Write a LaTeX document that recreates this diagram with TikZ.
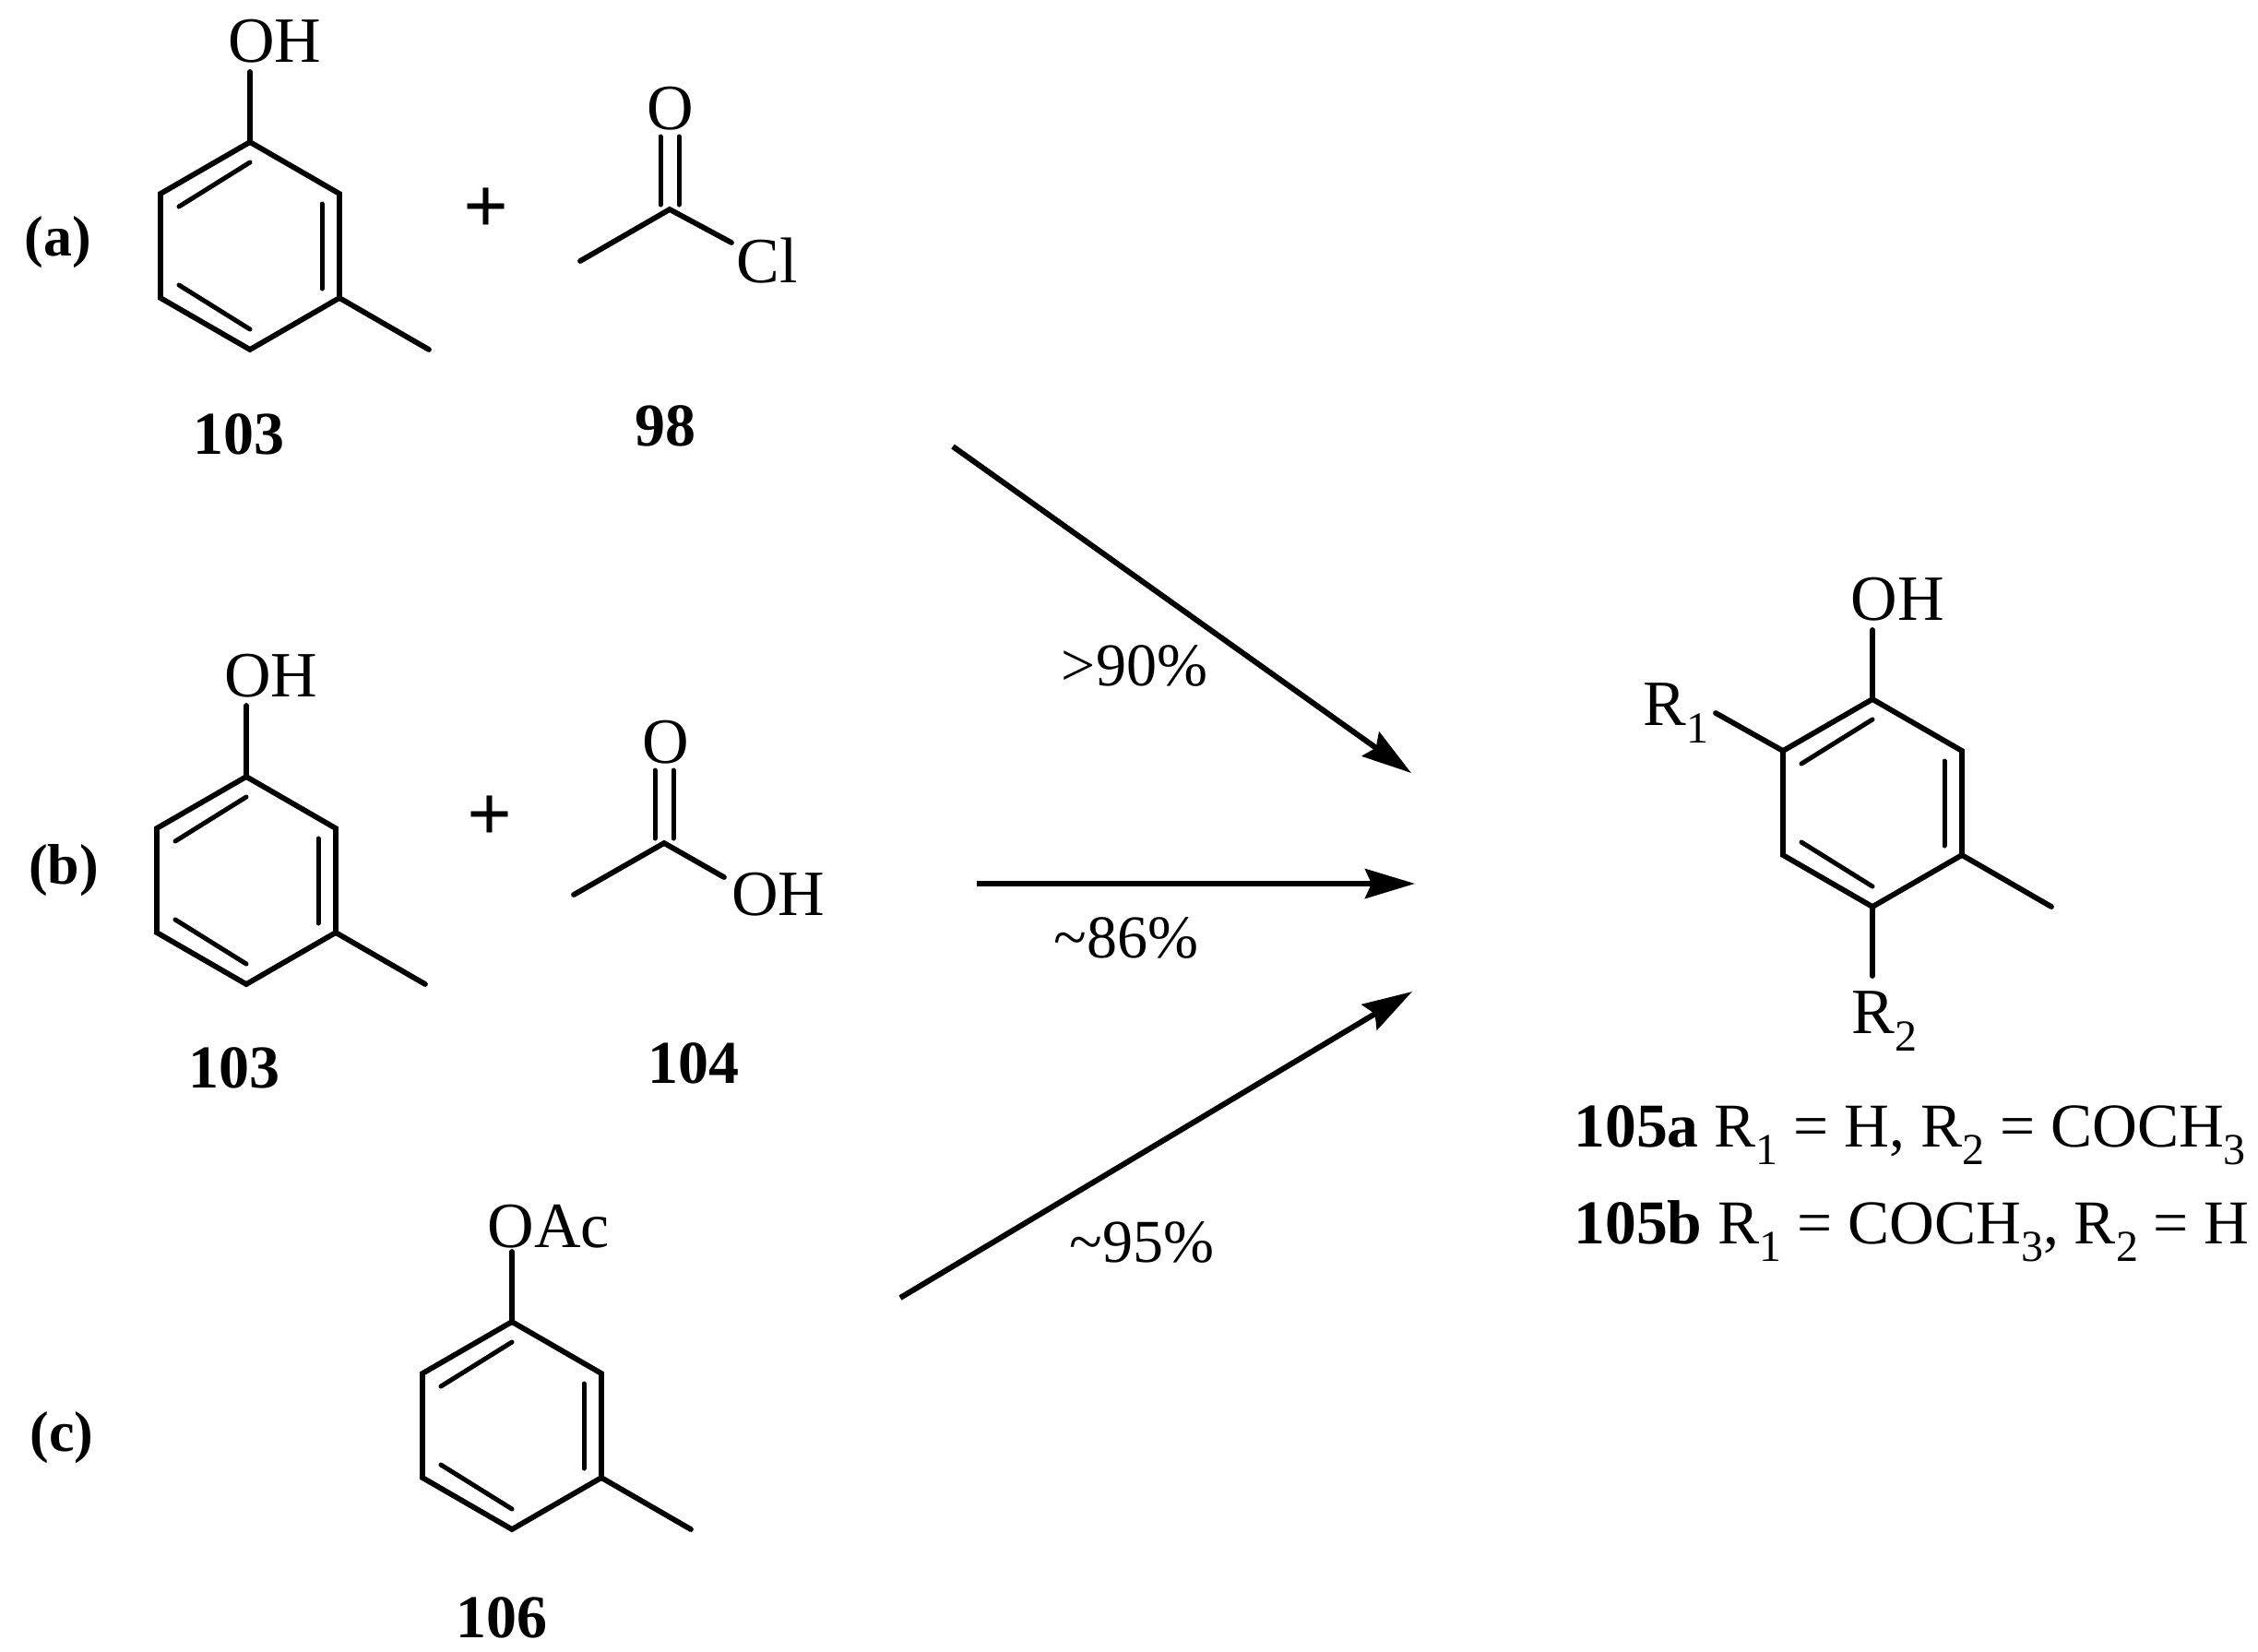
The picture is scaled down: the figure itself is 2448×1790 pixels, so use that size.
\documentclass[tikz,border=0pt]{standalone}
\usepackage{fontspec}
\setmainfont{Liberation Serif}
\usetikzlibrary{arrows.meta}
\newcommand{\lowidx}[1]{\raisebox{-9.5pt}{\fontsize{24}{24}\selectfont #1}}
\tikzset{
  bond/.style={line width=2.9pt,line cap=round,line join=miter},
  inner bond/.style={line width=2.5pt,line cap=round},
  rxn/.style={line width=3pt,-{Stealth[length=27pt,width=16pt,inset=3.5pt]}},
  atom/.style={inner sep=0pt,font=\fontsize{35}{40}\selectfont},
  cpd/.style={inner sep=0pt,font=\fontsize{33}{40}\selectfont\bfseries},
  plusmark/.style={inner sep=0pt,font=\fontsize{43}{43}\selectfont\bfseries},
  pct/.style={inner sep=0pt,font=\fontsize{33}{40}\selectfont},
  tag/.style={inner sep=0pt,font=\fontsize{31}{40}\selectfont\bfseries},
  legend/.style={inner sep=0pt,anchor=base west,font=\fontsize{33.8}{40}\selectfont}
}
% #1 prefix, #2 x of ring axis, #3 y of top vertex, #4 half width, #5 side offset
\newcommand{\cresolring}[5]{
  \coordinate (#1t) at (#2,#3);
  \coordinate (#1ul) at (#2-#4,#3+#5);
  \coordinate (#1ll) at (#2-#4,#3+#5+113);
  \coordinate (#1b) at (#2,#3+#5+113+#5);
  \coordinate (#1lr) at (#2+#4,#3+#5+113);
  \coordinate (#1ur) at (#2+#4,#3+#5);
  \coordinate (#1me) at (#2+2*#4,#3+#5+113+#5);
  \coordinate (#1i1) at (#2+#4-19,#3+#5+11);
  \coordinate (#1i2) at (#2+#4-19,#3+#5+103);
  \coordinate (#1i3) at (#2-#4+20,#3+#5+14);
  \coordinate (#1i4) at (#2,#3+22);
  \coordinate (#1i5) at (#2-#4+20,#3+#5+99);
  \coordinate (#1i6) at (#2,#3+#5+113+#5-22);
  \draw[bond] (#1t) -- (#1ul) -- (#1ll) -- (#1b) -- (#1lr) -- (#1ur) -- cycle;
  \draw[bond] (#1lr) -- (#1me);
  \draw[inner bond] (#1i1) -- (#1i2);
  \draw[inner bond] (#1i3) -- (#1i4);
  \draw[inner bond] (#1i5) -- (#1i6);
}
\begin{document}
\begin{tikzpicture}[x=0.5pt,y=-0.5pt]
\useasboundingbox (0,0) rectangle (2448,1790);
% (a)
\cresolring{a}{271}{154}{97}{56}
\coordinate (aO) at (271,78);
\draw[bond] (at) -- (aO);
\node[atom] (aoh) at (298,45) {OH};
\node[tag] (la) at (63,263) {(a)};
\node[cpd] (n103a) at (259,471) {103};
\node[plusmark] (pa) at (527,228) {+};
\coordinate (acC) at (726,227);
\coordinate (acMe) at (629,283);
\coordinate (acCl) at (793,263);
\coordinate (acO1) at (716,148);
\coordinate (acO2) at (736,148);
\coordinate (acC1) at (716,222);
\coordinate (acC2) at (736,222);
\draw[bond] (acMe) -- (acC) -- (acCl);
\draw[inner bond] (acO1) -- (acC1);
\draw[inner bond] (acO2) -- (acC2);
\node[atom] (aco) at (727,118) {O};
\node[atom] (accl) at (832,283) {Cl};
\node[cpd] (n98) at (721,462) {98};
% (b)
\cresolring{b}{267}{842}{97}{56}
\coordinate (bO) at (267,765);
\draw[bond] (bt) -- (bO);
\node[atom] (boh) at (294,733) {OH};
\node[tag] (lb) at (69,944) {(b)};
\node[cpd] (n103b) at (254,1158) {103};
\node[plusmark] (pb) at (531,887) {+};
\coordinate (bcC) at (720,914);
\coordinate (bcMe) at (622,970);
\coordinate (bcOH) at (785,951);
\coordinate (bcO1) at (710,835);
\coordinate (bcO2) at (730,835);
\coordinate (bcC1) at (710,909);
\coordinate (bcC2) at (730,909);
\draw[bond] (bcMe) -- (bcC) -- (bcOH);
\draw[inner bond] (bcO1) -- (bcC1);
\draw[inner bond] (bcO2) -- (bcC2);
\node[atom] (bco) at (722,805) {O};
\node[atom] (bcoh) at (844,970) {OH};
\node[cpd] (n104) at (752,1153) {104};
% (c)
\cresolring{c}{555}{1433}{97}{56}
\coordinate (cO) at (555,1357);
\draw[bond] (ct) -- (cO);
\node[atom] (coac) at (595,1330) {OAc};
\node[tag] (lc) at (67,1559) {(c)};
\node[cpd] (n106) at (544,1754) {106};
% arrows
\coordinate (s1) at (1033,484);
\coordinate (e1) at (1530,838);
\coordinate (s2) at (1059,958);
\coordinate (e2) at (1534,958);
\coordinate (s3) at (976,1407);
\coordinate (e3) at (1531,1075);
\draw[rxn] (s1) -- (e1);
\draw[rxn] (s2) -- (e2);
\draw[rxn] (s3) -- (e3);
\node[pct] (p1) at (1230,722) {>90\%};
\node[pct] (p2) at (1221,1017) {\char`~86\%};
\node[pct] (p3) at (1238,1347) {\char`~95\%};
% product
\cresolring{p}{2030}{758}{97}{56}
\coordinate (pO) at (2030,683);
\coordinate (pR2) at (2030,1058);
\coordinate (pR1) at (1860,773);
\draw[bond] (pt) -- (pO);
\draw[bond] (pb) -- (pR2);
\draw[bond] (pul) -- (pR1);
\node[atom] (poh) at (2057,650) {OH};
\node[atom] (pr1) at (1817,773) {R\lowidx{1}};
\node[atom] (pr2) at (2043,1107) {R\lowidx{2}};
\node[legend] (l1) at (1706,1243) {\textbf{105a} R\lowidx{1} = H, R\lowidx{2} = COCH\lowidx{3}};
\node[legend] (l2) at (1706,1348) {\textbf{105b} R\lowidx{1} = COCH\lowidx{3}, R\lowidx{2} = H};
\end{tikzpicture}
\end{document}
